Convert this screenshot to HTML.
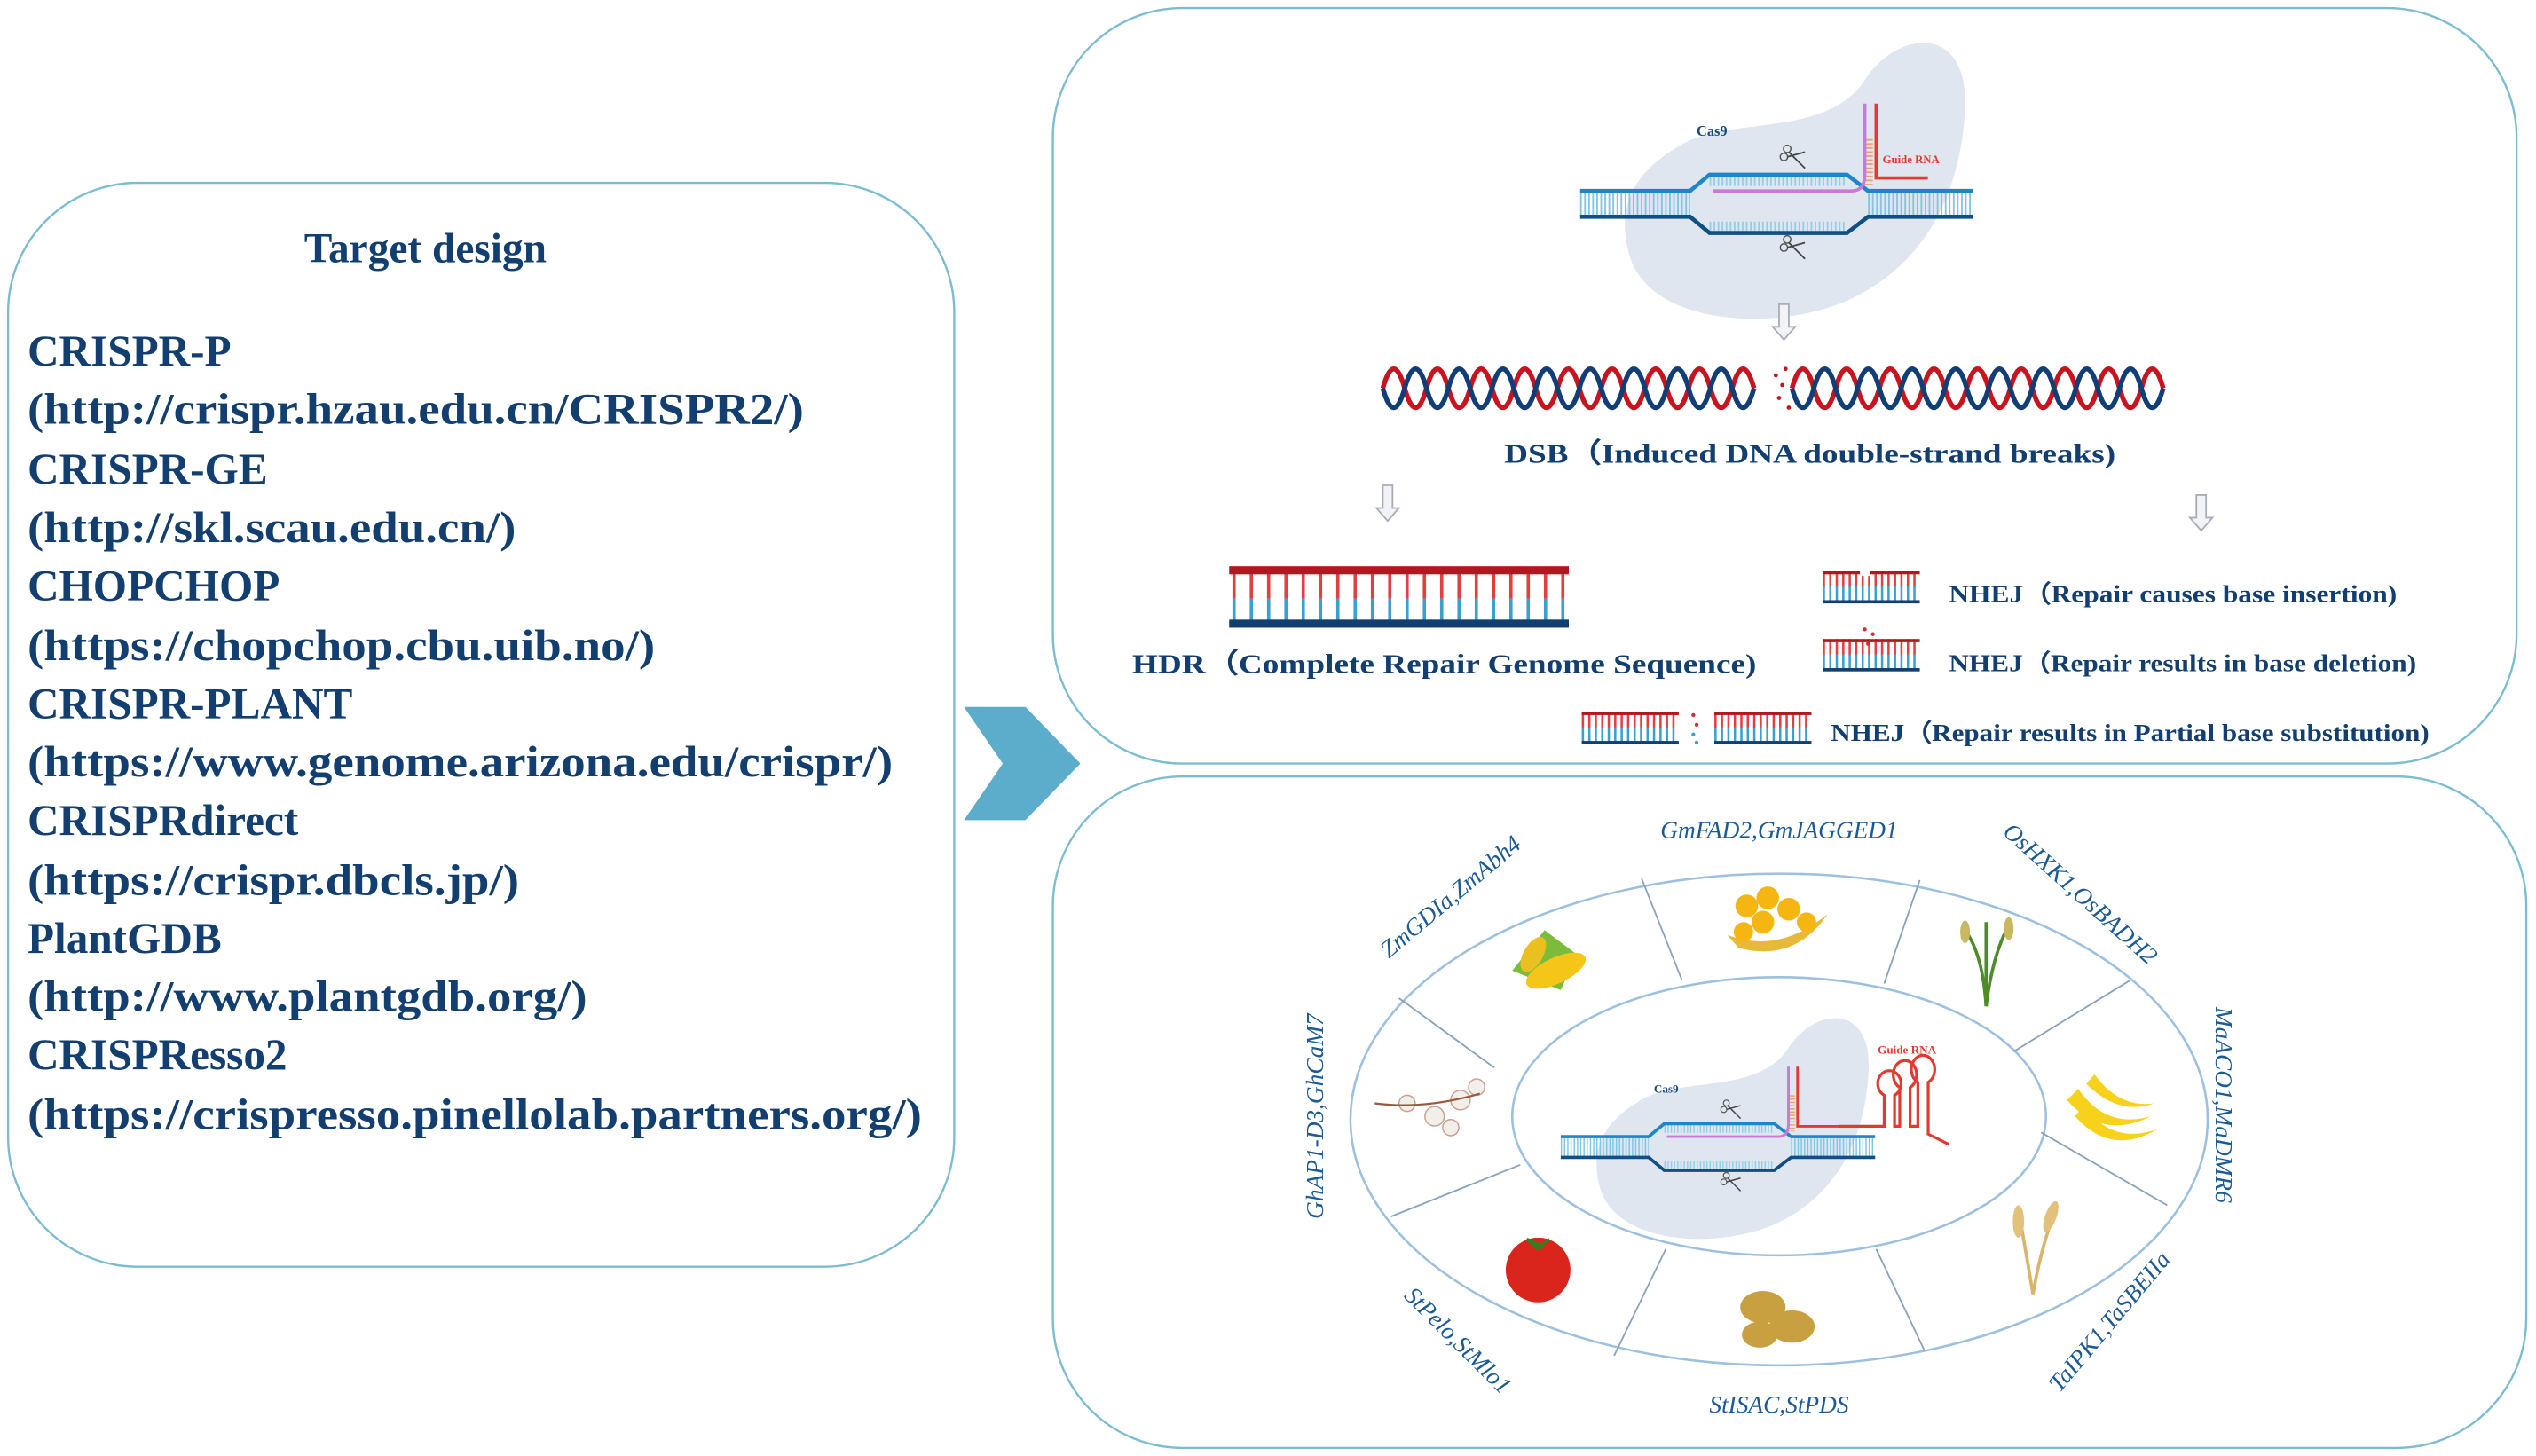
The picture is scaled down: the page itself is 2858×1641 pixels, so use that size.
<!DOCTYPE html>
<html><head><meta charset="utf-8"><style>
html,body{margin:0;padding:0;background:#fff;}
svg{display:block;}
</style></head><body>
<svg width="2858" height="1641" viewBox="0 0 1568 900" preserveAspectRatio="none" xmlns="http://www.w3.org/2000/svg">
<defs>
<g id="scis">
 <circle cx="-4" cy="-6" r="2.3" fill="none" stroke="#555" stroke-width="0.8"/>
 <circle cx="-6" cy="-1" r="2.3" fill="none" stroke="#555" stroke-width="0.8"/>
 <line x1="-3" y1="-4" x2="7" y2="6" stroke="#444" stroke-width="1"/>
 <line x1="-4" y1="-1" x2="7" y2="-4" stroke="#444" stroke-width="1"/>
</g>
<g id="cas">
 <path d="M60,-35 C90,-55 150,-40 175,-75 C195,-108 240,-112 238,-60 C236,-10 215,40 160,62 C110,80 40,72 30,30 C22,0 35,-20 60,-35Z" fill="#dfe6f0"/>
 <line x1="0" y1="0" x2="68" y2="0" stroke="#7ec6e2" stroke-width="14" stroke-dasharray="1 1.5"/>
 <line x1="178" y1="0" x2="243" y2="0" stroke="#7ec6e2" stroke-width="14" stroke-dasharray="1 1.5"/>
 <line x1="80" y1="-14" x2="165" y2="-14" stroke="#8fd0e8" stroke-width="6" stroke-dasharray="1 1.5"/>
 <line x1="80" y1="14" x2="165" y2="14" stroke="#8fd0e8" stroke-width="6" stroke-dasharray="1 1.5"/>
 <path d="M0,-8 H68 L80,-18 H165 L178,-8 H243" fill="none" stroke="#1f86c6" stroke-width="2.5"/>
 <path d="M0,8 H68 L80,18 H165 L178,8 H243" fill="none" stroke="#0f4f86" stroke-width="2.5"/>
 <line x1="178" y1="-40" x2="178" y2="-12" stroke="#f0a070" stroke-width="6" stroke-dasharray="1 1.5"/>
 <path d="M82,-8 H168 Q176,-8 176,-18 V-62" fill="none" stroke="#c77ad6" stroke-width="2"/>
 <path d="M183,-62 V-16 H215" fill="none" stroke="#e23a30" stroke-width="2"/>
 <use href="#scis" x="132" y="-28"/>
 <use href="#scis" x="132" y="28"/>
 <text x="72" y="-42" font-family="Liberation Serif,serif" font-weight="bold" font-size="9" fill="#174a7a">Cas9</text>
</g>
<g id="dnarr">
 <path d="M-3,0 H3 V14 H7 L0,22 L-7,14 H-3Z" fill="#f2f3f6" stroke="#a8adb8" stroke-width="1"/>
</g>
<g id="lad">
 <line x1="0" y1="5" x2="60" y2="5" stroke="#e24040" stroke-width="10" stroke-dasharray="1.4 2.6"/>
 <line x1="0" y1="14" x2="60" y2="14" stroke="#3aa0d0" stroke-width="9" stroke-dasharray="1.4 2.6"/>
 <rect x="0" y="0" width="60" height="2" fill="#b01820"/>
 <rect x="0" y="18" width="60" height="2" fill="#123e70"/>
</g>
</defs>

<!-- left box -->
<rect x="5" y="113" width="585" height="670" rx="80" fill="#fff" stroke="#7bbcd2" stroke-width="1.3"/>
<g font-family="Liberation Serif,serif" font-weight="bold" fill="#123f70">
<text x="263" y="162" font-size="26" text-anchor="middle">Target design</text>
<g font-size="27">
<text x="17" y="226">CRISPR-P</text>
<text x="17" y="262" textLength="480" lengthAdjust="spacingAndGlyphs">(http://crispr.hzau.edu.cn/CRISPR2/)</text>
<text x="17" y="299">CRISPR-GE</text>
<text x="17" y="335" textLength="302" lengthAdjust="spacingAndGlyphs">(http://skl.scau.edu.cn/)</text>
<text x="17" y="371">CHOPCHOP</text>
<text x="17" y="408" textLength="388" lengthAdjust="spacingAndGlyphs">(https://chopchop.cbu.uib.no/)</text>
<text x="17" y="444">CRISPR-PLANT</text>
<text x="17" y="480" textLength="535" lengthAdjust="spacingAndGlyphs">(https://www.genome.arizona.edu/crispr/)</text>
<text x="17" y="516">CRISPRdirect</text>
<text x="17" y="553" textLength="304" lengthAdjust="spacingAndGlyphs">(https://crispr.dbcls.jp/)</text>
<text x="17" y="589">PlantGDB</text>
<text x="17" y="625" textLength="346" lengthAdjust="spacingAndGlyphs">(http://www.plantgdb.org/)</text>
<text x="17" y="661">CRISPResso2</text>
<text x="17" y="698" textLength="553" lengthAdjust="spacingAndGlyphs">(https://crispresso.pinellolab.partners.org/)</text>
</g></g>

<!-- big arrow -->
<path d="M596,437 H634 L668,472 L634,507 H596 L620,472Z" fill="#5caccc"/>

<!-- top right box -->
<rect x="651" y="5" width="905" height="467" rx="80" fill="#fff" stroke="#7bbcd2" stroke-width="1.3"/>
<use href="#cas" x="977" y="126"/>
<text x="1164" y="101" font-family="Liberation Serif,serif" font-weight="bold" font-size="7" fill="#e23a30">Guide RNA</text>
<use href="#dnarr" x="1103" y="188"/>
<!-- helix -->
<path d="M855,240 q6.75,-24 13.5,0 t13.5,0 t13.5,0 t13.5,0 t13.5,0 t13.5,0 t13.5,0 t13.5,0 t13.5,0 t13.5,0 t13.5,0 t13.5,0 t13.5,0 t13.5,0 t13.5,0 t13.5,0 t13.5,0 M1108,240 q6.75,-24 13.5,0 t13.5,0 t13.5,0 t13.5,0 t13.5,0 t13.5,0 t13.5,0 t13.5,0 t13.5,0 t13.5,0 t13.5,0 t13.5,0 t13.5,0 t13.5,0 t13.5,0 t13.5,0 t13.5,0" fill="none" stroke="#c8141e" stroke-width="3"/>
<path d="M855,240 q6.75,24 13.5,0 t13.5,0 t13.5,0 t13.5,0 t13.5,0 t13.5,0 t13.5,0 t13.5,0 t13.5,0 t13.5,0 t13.5,0 t13.5,0 t13.5,0 t13.5,0 t13.5,0 t13.5,0 t13.5,0 M1108,240 q6.75,24 13.5,0 t13.5,0 t13.5,0 t13.5,0 t13.5,0 t13.5,0 t13.5,0 t13.5,0 t13.5,0 t13.5,0 t13.5,0 t13.5,0 t13.5,0 t13.5,0 t13.5,0 t13.5,0 t13.5,0" fill="none" stroke="#123e78" stroke-width="3"/>
<g fill="#c8141e"><circle cx="1098" cy="232" r="1.3"/><circle cx="1102" cy="238" r="1.3"/><circle cx="1100" cy="246" r="1.3"/><circle cx="1106" cy="252" r="1.3"/><circle cx="1104" cy="228" r="1.3"/></g>
<g font-family="Liberation Serif,serif" font-weight="bold" fill="#123f70" font-size="17">
<text x="930" y="286" textLength="378" lengthAdjust="spacingAndGlyphs">DSB（Induced DNA double-strand breaks)</text>
<text x="700" y="416" textLength="386" lengthAdjust="spacingAndGlyphs">HDR（Complete Repair Genome Sequence)</text>
<text x="1205" y="372" font-size="15" textLength="277" lengthAdjust="spacingAndGlyphs">NHEJ（Repair causes base insertion)</text>
<text x="1205" y="415" font-size="15" textLength="289" lengthAdjust="spacingAndGlyphs">NHEJ（Repair results in base deletion)</text>
<text x="1132" y="458" font-size="15" textLength="370" lengthAdjust="spacingAndGlyphs">NHEJ（Repair results in Partial base substitution)</text>
</g>
<use href="#dnarr" x="858" y="300"/>
<use href="#dnarr" x="1361" y="306"/>
<!-- HDR ladder -->
<g>
 <line x1="762" y1="362" x2="970" y2="362" stroke="#e24040" stroke-width="16" stroke-dasharray="2 8.7"/>
 <line x1="762" y1="377" x2="970" y2="377" stroke="#3aa0d0" stroke-width="14" stroke-dasharray="2 8.7"/>
 <rect x="760" y="350" width="210" height="5" fill="#b01820"/>
 <rect x="760" y="383" width="210" height="5" fill="#123e70"/>
</g>
<g transform="translate(1127,353)"><use href="#lad"/></g>
<g transform="translate(1127,395)"><use href="#lad"/></g>
<rect x="1150" y="350" width="6" height="6" fill="#fff"/>
<g fill="#d03030"><circle cx="1153" cy="389" r="1.2"/><circle cx="1158" cy="392" r="1.2"/><circle cx="1155" cy="398" r="1.2"/></g>
<g transform="translate(978,440)"><use href="#lad"/></g>
<g transform="translate(1060,440)"><use href="#lad"/></g>
<g fill="#d03030"><circle cx="1047" cy="442" r="1.2"/><circle cx="1049" cy="448" r="1.2"/></g>
<g fill="#3aa0d0"><circle cx="1047" cy="454" r="1.2"/><circle cx="1049" cy="459" r="1.2"/></g>

<!-- bottom right box -->
<rect x="651" y="480" width="911" height="415" rx="80" fill="#fff" stroke="#7bbcd2" stroke-width="1.3"/>
<ellipse cx="1100" cy="692" rx="265" ry="152" fill="#fff" stroke="#9cc0e0" stroke-width="1.4"/>
<ellipse cx="1100" cy="690" rx="165" ry="86" fill="#fff" stroke="#9cc0e0" stroke-width="1.4"/>
<g stroke="#8aa2bc" stroke-width="1">
<line x1="1015" y1="543" x2="1040" y2="606"/>
<line x1="1187" y1="544" x2="1165" y2="608"/>
<line x1="1317" y1="606" x2="1245" y2="650"/>
<line x1="1340" y1="745" x2="1262" y2="700"/>
<line x1="1190" y1="835" x2="1160" y2="772"/>
<line x1="998" y1="838" x2="1030" y2="772"/>
<line x1="860" y1="752" x2="940" y2="720"/>
<line x1="865" y1="617" x2="924" y2="660"/>
</g>
<g transform="translate(965,709) scale(0.8)">
<use href="#cas"/>
<path d="M215,-16 H250 V-40 a9,10 0 1 1 8,0 V-16 H262 V-46 a9,11 0 1 1 8,0 V-16 H276 V-50 a9,11 0 1 1 8,0 V-10 L300,-2" fill="none" stroke="#e23a30" stroke-width="2.2"/>
<text x="245" y="-72" font-family="Liberation Serif,serif" font-weight="bold" font-size="9" fill="#e23a30">Guide RNA</text>
</g>
<!-- labels -->
<g font-family="Liberation Serif,serif" font-style="italic" font-size="15" fill="#1b5a94">
<text x="1100" y="518" text-anchor="middle">GmFAD2,GmJAGGED1</text>
<text transform="translate(1283,556) rotate(42)" text-anchor="middle">OsHXK1,OsBADH2</text>
<text transform="translate(1370,683) rotate(90)" text-anchor="middle">MaACO1,MaDMR6</text>
<text transform="translate(1308,820) rotate(-50)" text-anchor="middle">TaIPK1,TaSBEIIa</text>
<text x="1100" y="873" text-anchor="middle">StISAC,StPDS</text>
<text transform="translate(898,832) rotate(45)" text-anchor="middle">StPelo,StMlo1</text>
<text transform="translate(818,690) rotate(-90)" text-anchor="middle">GhAP1-D3,GhCaM7</text>
<text transform="translate(900,558) rotate(-40)" text-anchor="middle">ZmGDIa,ZmAbh4</text>
</g>
<!-- crops -->
<g>
 <path d="M935,600 L955,575 L975,590 L965,612Z" fill="#7cbc3a"/>
 <ellipse cx="962" cy="600" rx="20" ry="8" transform="rotate(-25 962 600)" fill="#f5c518"/>
 <ellipse cx="948" cy="590" rx="12" ry="6" transform="rotate(-60 948 590)" fill="#e9c020"/>
 <path d="M1068,578 Q1100,590 1130,565 Q1110,595 1075,586Z" fill="#e8b838"/>
 <g fill="#f5b612"><circle cx="1080" cy="560" r="7"/><circle cx="1093" cy="555" r="7"/><circle cx="1106" cy="562" r="7"/><circle cx="1090" cy="570" r="7"/><circle cx="1117" cy="570" r="6"/><circle cx="1078" cy="576" r="6"/></g>
 <g stroke="#4e8c2a" stroke-width="2" fill="none"><path d="M1228,622 Q1226,590 1215,575"/><path d="M1228,622 Q1232,590 1242,572"/><path d="M1228,622 V570"/></g>
 <g fill="#c8b860"><ellipse cx="1215" cy="576" rx="3" ry="7"/><ellipse cx="1242" cy="574" rx="3" ry="7"/></g>
 <g fill="#f7d21a"><path d="M1278,680 Q1300,705 1330,690 Q1302,698 1285,673Z"/><path d="M1283,690 Q1305,715 1334,698 Q1305,708 1289,683Z"/><path d="M1290,670 Q1310,690 1332,682 Q1310,685 1295,664Z"/></g>
 <g stroke="#d9b56a" stroke-width="2" fill="none"><path d="M1257,800 Q1252,770 1248,748"/><path d="M1257,800 Q1262,770 1272,745"/></g>
 <g fill="#e2c27a"><ellipse cx="1248" cy="755" rx="3.5" ry="10"/><ellipse cx="1268" cy="752" rx="3.5" ry="10" transform="rotate(20 1268 752)"/></g>
 <g fill="#c8a040"><ellipse cx="1090" cy="808" rx="14" ry="10"/><ellipse cx="1108" cy="820" rx="14" ry="10"/><ellipse cx="1088" cy="825" rx="11" ry="8"/></g>
 <circle cx="951" cy="785" r="20" fill="#d9251b"/>
 <path d="M944,766 L951,772 L958,766 L953,770Z" fill="#3a7a20" stroke="#3a7a20" stroke-width="2"/>
 <g fill="#f2eeea" stroke="#c9a090" stroke-width="0.8"><circle cx="870" cy="682" r="5"/><circle cx="887" cy="690" r="6"/><circle cx="903" cy="680" r="6"/><circle cx="913" cy="672" r="5"/><circle cx="897" cy="697" r="5"/></g>
 <path d="M850,682 Q880,686 915,676" fill="none" stroke="#9a5a40" stroke-width="1.2"/>
</g>
</svg>
</body></html>
